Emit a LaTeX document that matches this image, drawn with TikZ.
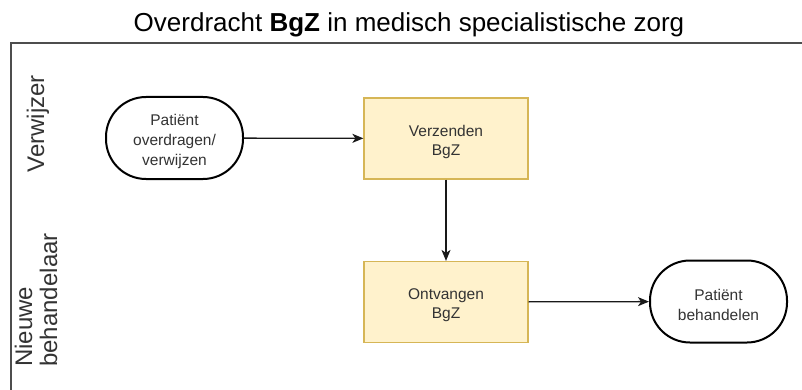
\documentclass[tikz,border=0pt]{standalone}
\usepackage{fontspec}
\setmainfont{Liberation Sans}
\usetikzlibrary{arrows.meta}
\definecolor{txt}{HTML}{333333}
\definecolor{boxfill}{HTML}{FFF2CC}
\definecolor{boxline}{HTML}{D6B656}
\definecolor{frameline}{HTML}{4D4D4D}
\newcommand{\topstrut}{\rule{0pt}{18pt}}
\begin{document}
\begin{tikzpicture}[x=1pt,y=-1pt,
  titletext/.style={inner sep=0pt, text=black, font=\fontsize{26}{30}\selectfont},
  lanelabel/.style={inner sep=0pt, rotate=90, text=txt, font=\fontsize{24}{25}\selectfont},
  termbox/.style={draw=black, line width=2pt, fill=white, minimum width=137pt, minimum height=82pt,
    rounded corners=40pt, align=center, text=txt, inner sep=0pt, font=\fontsize{15.5}{20}\selectfont},
  procbox/.style={draw=boxline, line width=1.2pt, fill=boxfill, minimum width=164pt, minimum height=81pt,
    align=center, text=txt, inner sep=0pt, font=\fontsize{15.5}{19}\selectfont},
  flow/.style={draw=black!90, line width=1.3pt, -{Stealth[length=11pt,width=9pt,inset=3pt]}},
  frame/.style={draw=frameline, line width=1.5pt}
]
\useasboundingbox (0,0) rectangle (802,390);
\draw[frame] (11,390) -- (11,43) -- (802,43);
\node[titletext] (title) at (409,25) {Overdracht \textbf{BgZ} in medisch specialistische zorg};
\node[lanelabel] (lane1) at (38,124) {Verwijzer};
\node[lanelabel, align=left] (lane2) at (36,300) {Nieuwe\\behandelaar};
\node[termbox] (t1) at (174.5,138) {\topstrut Patiënt\\overdragen/\\verwijzen};
\node[procbox] (p1) at (446,138.5) {\topstrut Verzenden\\BgZ};
\node[procbox] (p2) at (446,302) {\topstrut Ontvangen\\BgZ};
\node[termbox] (t2) at (718.5,301.5) {\topstrut Patiënt\\behandelen};
\draw[flow] (t1) -- (p1);
\draw[flow] (p1) -- (p2);
\draw[flow] (p2) -- (t2);
\end{tikzpicture}
\end{document}
